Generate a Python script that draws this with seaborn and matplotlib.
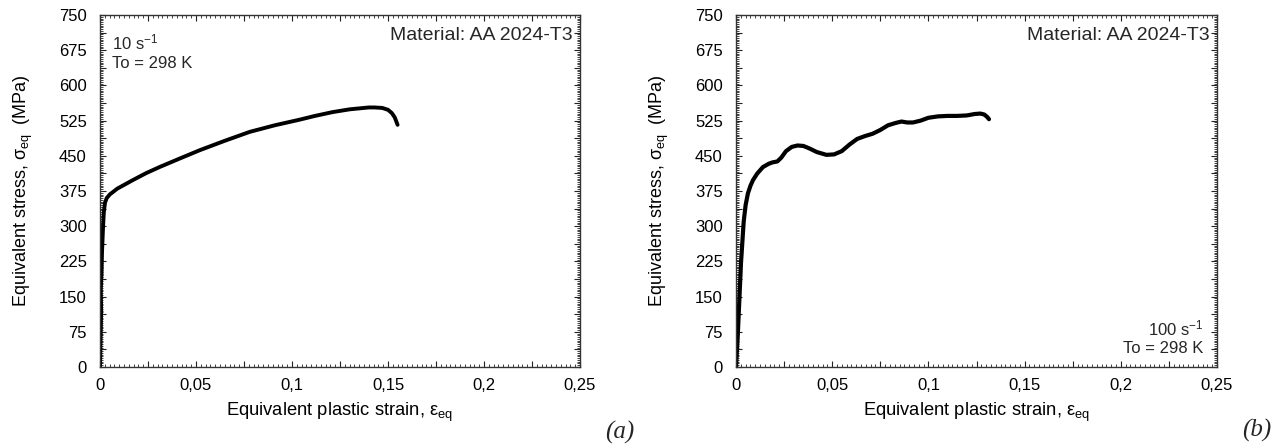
import numpy as np
import pandas as pd
import matplotlib
matplotlib.use('Agg')
import matplotlib.pyplot as plt
import seaborn as sns
from matplotlib.ticker import MultipleLocator, FuncFormatter

# strain-stress readings, 10 1/s test (a)
strain_a = [0.0, 0.0003, 0.0006, 0.0004, 0.0008, 0.0010, 0.0013, 0.0016, 0.0020,
            0.0026, 0.0035, 0.0052, 0.0090, 0.0170, 0.0240, 0.0310, 0.0420, 0.0520,
            0.0650, 0.0780, 0.0910, 0.1040, 0.1120, 0.1210, 0.1300, 0.1350, 0.1400,
            0.1430, 0.1470, 0.1500, 0.1520, 0.1535, 0.1550]
stress_a = [0, 60, 120, 165, 200, 240, 270, 300, 330,
            350, 360, 368, 380, 398, 413, 426, 445, 462,
            482, 501, 515, 527, 535, 543, 549, 551, 553,
            553, 552, 548, 541, 532, 516]

# strain-stress readings, 100 1/s test (b)
strain_b = [0.0, 0.0010, 0.0026, 0.0040, 0.0050, 0.0062, 0.0075, 0.0088, 0.0110,
            0.0140, 0.0170, 0.0190, 0.0215, 0.0235, 0.0260, 0.0290, 0.0320, 0.0350,
            0.0380, 0.0420, 0.0470, 0.0510, 0.0550, 0.0590, 0.0630, 0.0670, 0.0710,
            0.0750, 0.0790, 0.0830, 0.0860, 0.0890, 0.0920, 0.0960, 0.1000, 0.1050,
            0.1100, 0.1150, 0.1200, 0.1240, 0.1270, 0.1290, 0.1305, 0.1315]
stress_b = [0, 75, 222, 310, 345, 370, 386, 398, 412,
            426, 433, 436, 438, 446, 460, 469, 472, 471,
            466, 458, 452, 453, 460, 474, 486, 492, 497,
            505, 515, 520, 523, 521, 521, 525, 531, 534,
            535, 535, 536, 539, 540, 538, 533, 528]

x_labels = ['0', '0,05', '0,1', '0,15', '0,2', '0,25']

sns.set_theme(style='white')
plt.rcParams['font.family'] = ['Liberation Sans', 'DejaVu Sans']
plt.rcParams['mathtext.fontset'] = 'custom'
plt.rcParams['mathtext.rm'] = 'Liberation Sans'
plt.rcParams['mathtext.it'] = 'Liberation Sans'

fig = plt.figure(figsize=(12.78, 4.48), dpi=100)
ax_a = fig.add_axes([100 / 1278, 1 - 367 / 448, 480 / 1278, 352 / 448])
ax_b = fig.add_axes([736 / 1278, 1 - 367 / 448, 481 / 1278, 352 / 448])


def fmt_x(v, pos):
    k = int(round(v / 0.025))
    if k % 2:
        return ''
    return x_labels[k // 2] if k // 2 < len(x_labels) else ''


def fmt_y(v, pos):
    k = int(round(v / 37.5))
    if k % 2:
        return ''
    return str(int(round(v)))


def style_axes(ax):
    ax.set_xlim(0, 0.25)
    ax.set_ylim(0, 750)
    ax.xaxis.set_major_locator(MultipleLocator(0.025))
    ax.xaxis.set_minor_locator(MultipleLocator(0.0025))
    ax.yaxis.set_major_locator(MultipleLocator(37.5))
    ax.yaxis.set_minor_locator(MultipleLocator(3.75))
    ax.xaxis.set_major_formatter(FuncFormatter(fmt_x))
    ax.yaxis.set_major_formatter(FuncFormatter(fmt_y))
    ax.tick_params(which='both', direction='in', top=True, right=True,
                   bottom=True, left=True, colors='#222222', labelcolor='black',
                   labelsize=12)
    ax.tick_params(which='major', length=4.5, width=0.8)
    ax.tick_params(which='minor', length=2.5, width=0.6)
    ax.tick_params(axis='x', which='major', pad=8)
    ax.tick_params(axis='y', which='major', pad=9.5)
    for sp in ax.spines.values():
        sp.set_color('#333333')
        sp.set_linewidth(1.0)
    ax.set_xlabel('Equivalent plastic strain, ε$_{\\mathrm{eq}}$', fontsize=13.2,
                  color='black')
    ax.set_ylabel('Equivalent stress, σ$_{\\mathrm{eq}}$  (MPa)', fontsize=13,
                  color='black')
    ax.xaxis.set_label_coords(0.5, -0.097)
    ax.yaxis.set_label_coords(-0.135, 0.5)
    ax.text(0.985, 0.943, 'Material: AA 2024-T3', transform=ax.transAxes,
            ha='right', va='center', fontsize=14)


df_a = pd.DataFrame({'strain': strain_a, 'stress': stress_a})
df_b = pd.DataFrame({'strain': strain_b, 'stress': stress_b})

sns.lineplot(data=df_a, x='strain', y='stress', ax=ax_a, color='black',
             linewidth=2.8, sort=False, estimator=None)
sns.lineplot(data=df_b, x='strain', y='stress', ax=ax_b, color='black',
             linewidth=3, sort=False, estimator=None)

style_axes(ax_a)
style_axes(ax_b)

ax_a.text(0.025, 0.95, '10 s$^{-1}$\nTo = 298 K', transform=ax_a.transAxes,
          ha='left', va='top', fontsize=12, linespacing=1.25)
ax_b.text(0.971, 0.03, '100 s$^{-1}$\nTo = 298 K', transform=ax_b.transAxes,
          ha='right', va='bottom', fontsize=12, linespacing=1.25, multialignment='right')

fig.text(634 / 1278, 1 - 432 / 448, '(a)', family='Liberation Serif',
         style='italic', fontsize=18, ha='right', va='center')
fig.text(1271 / 1278, 1 - 430 / 448, '(b)', family='Liberation Serif',
         style='italic', fontsize=18, ha='right', va='center')

fig.savefig('out.png', dpi=100, facecolor='white')
